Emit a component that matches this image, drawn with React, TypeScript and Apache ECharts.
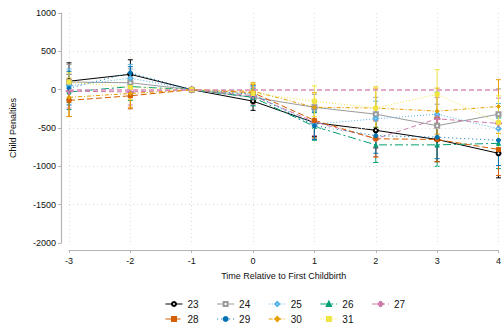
import React, { useEffect, useRef } from "react";
import * as echarts from "echarts";

const xs = [-3, -2, -1, 0, 1, 2, 3, 4];
const names = ["23", "24", "25", "26", "27", "28", "29", "30", "31"];

const s23 = [110, 200, 0, -150, -430, -530, -650, -830];
const s24 = [100, 90, 0, -100, -230, -320, -470, -320];
const s25 = [50, 150, 0, -60, -450, -380, -320, -510];
const s26 = [-30, 40, 0, -100, -480, -720, -720, -700];
const s27 = [-20, -30, 0, -80, -420, -640, -380, -440];
const s28 = [-140, -80, 0, -40, -400, -640, -650, -780];
const s29 = [20, 220, 0, -60, -470, -600, -620, -660];
const s30 = [-100, -50, 0, -20, -230, -240, -280, -220];
const s31 = [100, 30, 0, -50, -150, -240, -60, -430];

// CI half-widths
const h23 = [240, 190, 0, 120, 180, 230, 290, 320];
const h24 = [230, 180, 0, 110, 170, 220, 280, 330];
const h25 = [220, 180, 0, 110, 180, 230, 290, 330];
const h26 = [230, 180, 0, 110, 180, 230, 280, 330];
const h27 = [220, 170, 0, 110, 180, 230, 280, 330];
const h28 = [210, 170, 0, 110, 230, 240, 290, 340];
const h29 = [220, 80, 0, 110, 180, 230, 280, 330];
const h30 = [250, 180, 0, 110, 190, 260, 300, 350];
const h31 = [120, 160, 0, 130, 200, 280, 320, 350];

const yTickLabels = [-2000, -1500, -1000, -500, 0, 500, 1000];
const yGridValues = [500, -500, -1000, -1500];
const zeroLine = 0;

const seriesValues = [s23, s24, s25, s26, s27, s28, s29, s30, s31];
const seriesHalf = [h23, h24, h25, h26, h27, h28, h29, h30, h31];
const colors = ["#000000", "#9a9a9a", "#56B4E9", "#009E73", "#CC79A7", "#D55E00", "#0072B2", "#E69F00", "#F0E442"];
const symbols = [
  "emptyCircle",
  "emptyRect",
  "emptyDiamond",
  "triangle",
  "path://M4,0H6V4H10V6H6V10H4V6H0V4H4Z",
  "rect",
  "circle",
  "diamond",
  "rect",
];
const dashes: any[] = ["solid", "solid", [1, 2], [8, 3, 2, 3], [5, 3], [6, 3], [1, 3], [4, 2, 1, 2], [1, 2]];

export default function App() {
  const ref = useRef<HTMLDivElement>(null);
  useEffect(() => {
    if (!ref.current) return;
    const chart = echarts.init(ref.current, null, { renderer: "svg" });
    const font = "Liberation Sans, Arial, sans-serif";
    const series: any[] = [];
    // reference lines
    series.push({
      type: "line",
      data: [],
      z: 1,
      silent: true,
      markLine: {
        silent: true,
        symbol: "none",
        label: { show: false },
        lineStyle: { color: "#dcdcdc", type: [1, 3], width: 1 },
        data: yGridValues.map((v) => ({ yAxis: v })),
      },
    });
    series.push({
      type: "line",
      data: [],
      z: 1,
      silent: true,
      color: "#d98cbc",
      markLine: {
        silent: true,
        symbol: "none",
        label: { show: false },
        lineStyle: { color: "#d98cbc", type: [5, 3], width: 1.5, opacity: 1 },
        emphasis: { disabled: true },
        data: [{ yAxis: zeroLine }],
      },
    });
    names.forEach((n, k) => {
      const color = colors[k];
      const data = xs
        .map((x, i) => [x, seriesValues[k][i] - seriesHalf[k][i], seriesValues[k][i] + seriesHalf[k][i], seriesHalf[k][i]])
        .filter((d) => d[3] > 0);
      series.push({
        type: "custom",
        z: 2,
        data,
        encode: { x: 0, y: [1, 2] },
        renderItem: (params: any, api: any) => {
          const x = api.value(0);
          const lo = api.coord([x, api.value(1)]);
          const hi = api.coord([x, api.value(2)]);
          const c = 2.5;
          const st = { stroke: color, lineWidth: 1 };
          return {
            type: "group",
            children: [
              { type: "line", shape: { x1: lo[0], y1: lo[1], x2: hi[0], y2: hi[1] }, style: st },
              { type: "line", shape: { x1: lo[0] - c, y1: lo[1], x2: lo[0] + c, y2: lo[1] }, style: st },
              { type: "line", shape: { x1: hi[0] - c, y1: hi[1], x2: hi[0] + c, y2: hi[1] }, style: st },
            ],
          };
        },
      });
    });
    names.forEach((n, k) => {
      series.push({
        type: "line",
        name: n,
        z: 3,
        data: xs.map((x, i) => [x, seriesValues[k][i]]),
        symbol: symbols[k],
        symbolSize: k === 4 ? 6 : 4,
        showAllSymbol: true,
        itemStyle: { color: colors[k], borderColor: colors[k], borderWidth: 1 },
        lineStyle: { color: colors[k], width: 1, type: dashes[k] },
      });
    });

    const legendBase = {
      left: 165,
      padding: 0,
      itemWidth: 17,
      itemHeight: 5,
      itemGap: 18,
      lineStyle: { width: 1 },
      textStyle: { fontSize: 10, color: "#111", fontFamily: font },
    };

    chart.setOption({
      animation: false,
      textStyle: { fontFamily: font },
      grid: { left: 68, right: 4, top: 13, bottom: 81 },
      xAxis: {
        type: "value",
        min: -3,
        max: 4,
        interval: 1,
        offset: 7,
        name: "Time Relative to First Childbirth",
        nameLocation: "middle",
        nameGap: 21,
        nameTextStyle: { fontSize: 9, color: "#111", fontFamily: font },
        axisLine: { show: true, onZero: false, lineStyle: { color: "#b4b4b4", width: 1.2 } },
        axisTick: { show: true, length: 3, lineStyle: { color: "#b4b4b4" } },
        axisLabel: { fontSize: 9, color: "#111", margin: 6, fontFamily: font },
        splitLine: { show: true, lineStyle: { color: "#dcdcdc", type: [1, 3], width: 1 } },
      },
      yAxis: {
        type: "value",
        min: -2000,
        max: 1000,
        interval: 500,
        offset: 8,
        name: "Child Penalties",
        nameLocation: "middle",
        nameGap: 44,
        nameRotate: 90,
        nameTextStyle: { fontSize: 9, color: "#111", fontFamily: font },
        axisLine: { show: true, onZero: false, lineStyle: { color: "#b4b4b4", width: 1.2 } },
        axisTick: { show: true, length: 3, lineStyle: { color: "#b4b4b4" } },
        axisLabel: {
          fontSize: 9,
          color: "#111",
          margin: 5,
          fontFamily: font,
          formatter: (v: number) => (yTickLabels.includes(v) ? String(v) : ""),
        },
        splitLine: { show: false },
      },
      legend: [
        { ...legendBase, top: 299, data: names.slice(0, 5) },
        { ...legendBase, top: 314, data: names.slice(5) },
      ],
      series,
    });
    return () => chart.dispose();
  }, []);
  return <div ref={ref} style={{ position: "fixed", left: 0, top: 0, width: 504, height: 324, background: "#fff" }} />;
}
